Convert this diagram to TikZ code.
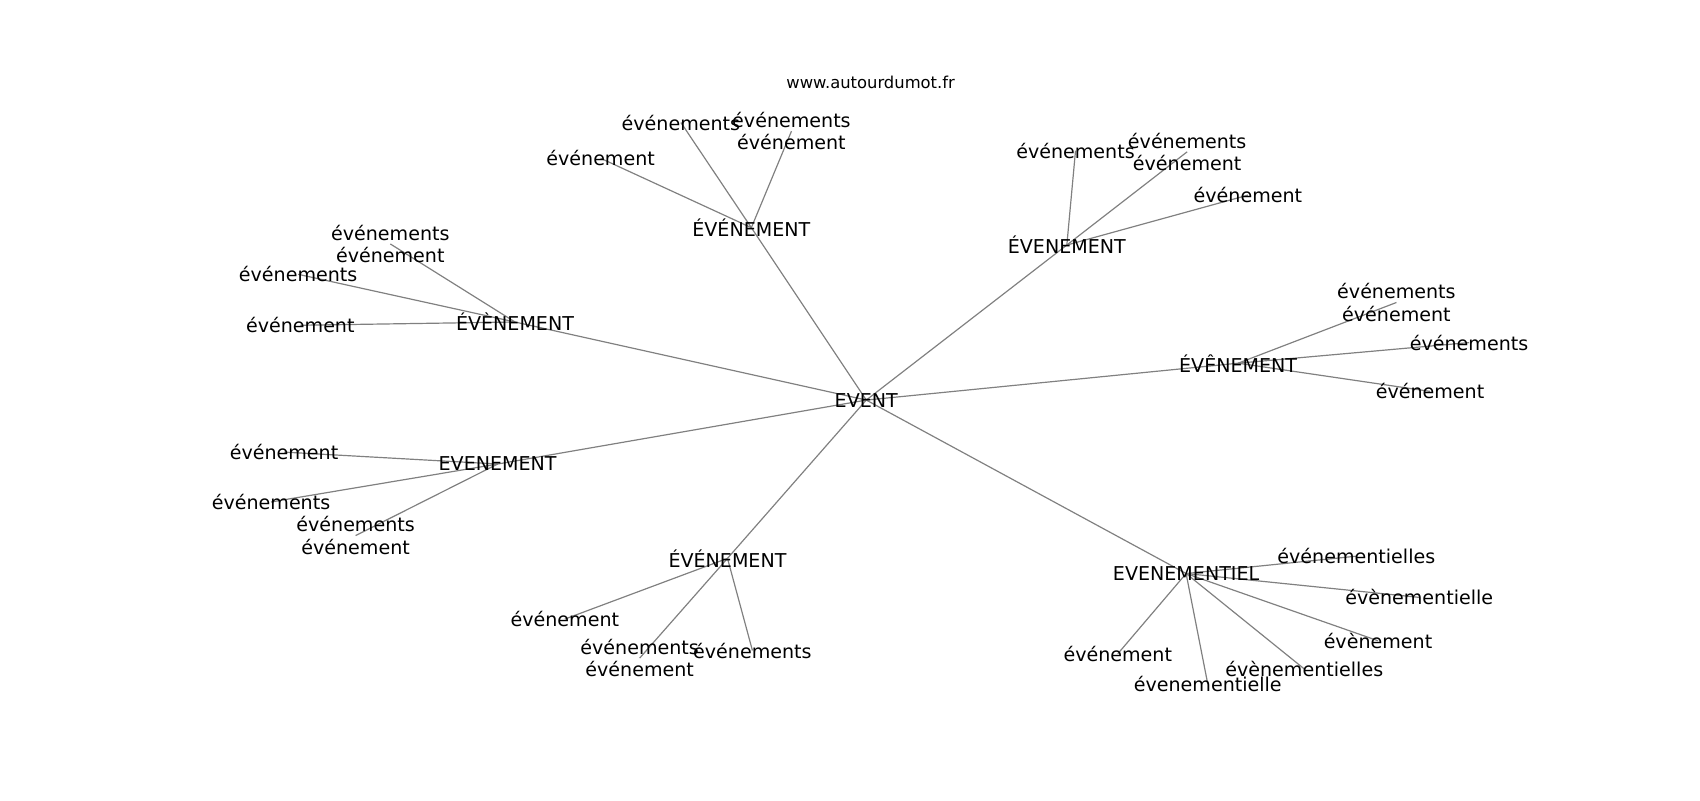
\documentclass[tikz,border=0pt]{standalone}
\usepackage{fontspec}
\setmainfont{DejaVu Sans}
\usetikzlibrary{backgrounds}
\begin{document}
\begin{tikzpicture}[x=1pt,y=-1pt]
	\tikzstyle{word}=[inner sep=0pt,font=\fontsize{17.6}{20.5}\selectfont,align=center]
	\tikzstyle{edge}=[draw, gray, line width=1.1pt]
	\useasboundingbox (0,0) rectangle (1568,738);
	\node [font=\fontsize{15.1}{17}\selectfont] (site) at (803,76) {www.autourdumot.fr};
	\begin{scope}
		% centre
		\node [word] (ev) at (799,369) {EVENT};
		% hubs
		\node [word] (h1) at (693,210) {ÉVÉNEMENT};
		\node [word] (h2) at (984,226) {ÉVENEMENT};
		\node [word] (h3) at (1142,335) {ÉVÊNEMENT};
		\node [word] (h4) at (1094,529) {EVENEMENTIEL};
		\node [word] (h5) at (671,515) {ÉVÉNEMENT};
		\node [word] (h6) at (459,428) {EVENEMENT};
		\node [word] (h7) at (475,297) {ÉVÈNEMENT};
		% leaves
		\node [word] (h1a) at (554,146) {événement};
		\node [word] (h1b) at (628,113) {événements};
		\node [word] (h1c) at (730,121) {événements\\événement};
		\node [word] (h2a) at (992,139) {événements};
		\node [word] (h2b) at (1095,140) {événements\\événement};
		\node [word] (h2c) at (1151,180) {événement};
		\node [word] (h3a) at (1288,279) {événements\\événement};
		\node [word] (h3b) at (1355,316) {événements};
		\node [word] (h3c) at (1319,361) {événement};
		\node [word] (h4a) at (1251,513) {événementielles};
		\node [word] (h4b) at (1309,551) {évènementielle};
		\node [word] (h4c) at (1271,591) {évènement};
		\node [word] (h4d) at (1203,617) {évènementielles};
		\node [word] (h4e) at (1031,603) {événement};
		\node [word] (h4f) at (1114,631) {évenementielle};
		\node [word] (h5a) at (521,571) {événement};
		\node [word] (h5b) at (590,607) {événements\\événement};
		\node [word] (h5c) at (694,600) {événements};
		\node [word] (h6a) at (262,417) {événement};
		\node [word] (h6b) at (250,463) {événements};
		\node [word] (h6c) at (328,494) {événements\\événement};
		\node [word] (h7a) at (360,225) {événements\\événement};
		\node [word] (h7b) at (275,253) {événements};
		\node [word] (h7c) at (277,300) {événement};
		\begin{pgfonlayer}{background}
			\foreach \h in {h1,h2,h3,h4,h5,h6,h7}
				\path[edge] (ev.center) -- (\h.center);
			\foreach \h/\l in {h1/h1a,h1/h1b,h1/h1c,h2/h2a,h2/h2b,h2/h2c,h3/h3a,h3/h3b,h3/h3c,
				h4/h4a,h4/h4b,h4/h4c,h4/h4d,h4/h4e,h4/h4f,h5/h5a,h5/h5b,h5/h5c,
				h6/h6a,h6/h6b,h6/h6c,h7/h7a,h7/h7b,h7/h7c}
				\path[edge] (\h.center) -- (\l.center);
		\end{pgfonlayer}
	\end{scope}
\end{tikzpicture}
\end{document}
